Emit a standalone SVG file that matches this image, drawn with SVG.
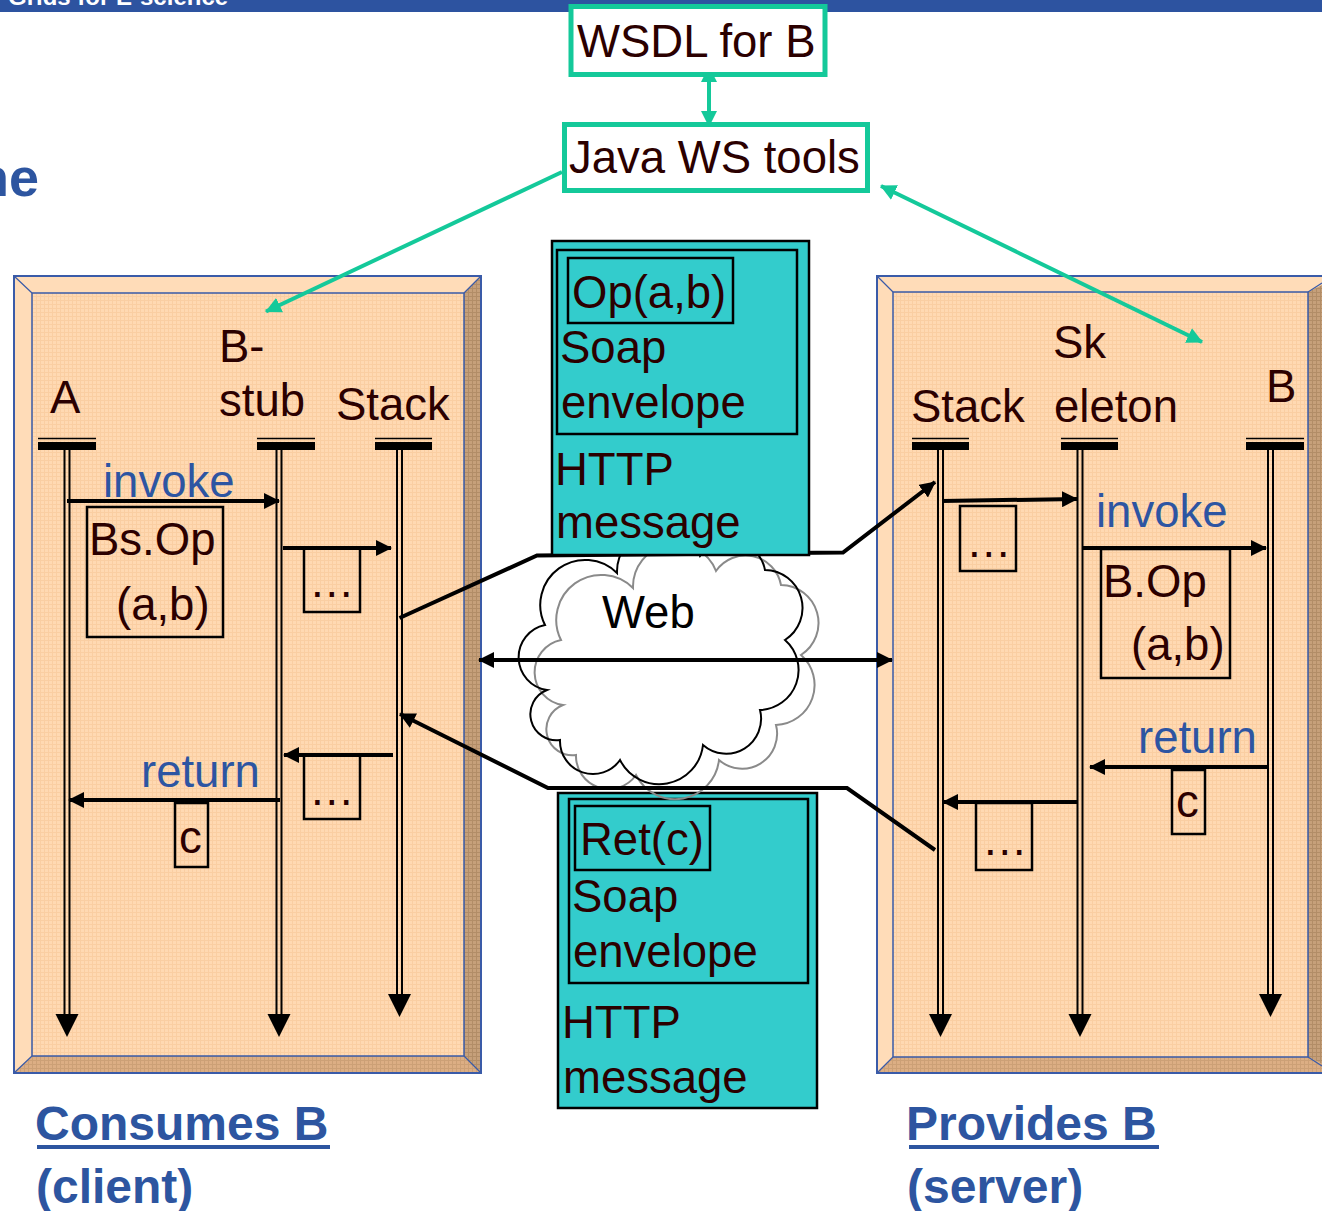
<svg xmlns="http://www.w3.org/2000/svg" width="1322" height="1211" viewBox="0 0 1322 1211">
  <style>
    .t { font-family: "Liberation Sans", Arial, sans-serif; font-size: 45.5px; fill: #2b0000; }
    .blue { fill: #2d55a2; }
    .bold { font-family: "Liberation Sans", Arial, sans-serif; font-weight: bold; fill: #2d55a0; }
    .ll { stroke: #000; stroke-width: 2; fill: none; }
    .msg { stroke: #000; stroke-width: 4; fill: none; marker-end: url(#ah); }
    .box { fill: none; stroke: #000; stroke-width: 2.5; }
    .bar { fill: #000; }
    .green { stroke: #14c99a; stroke-width: 4; fill: none; }
    .frame { fill: none; stroke: #3a5ba8; }
    .teal { fill: #33cccc; stroke: #000; stroke-width: 2.5; }
    .inner { fill: none; stroke: #000; stroke-width: 2.5; }
  </style>
  <defs>
    <pattern id="peach" width="4" height="4" patternUnits="userSpaceOnUse">
      <rect width="4" height="4" fill="#ffd9b2"/>
      <path d="M0,0.5H4M0.5,0V4" stroke="#f6c698" stroke-width="1" opacity="0.6"/>
    </pattern>
    <pattern id="tan" width="4" height="4" patternUnits="userSpaceOnUse">
      <rect width="4" height="4" fill="#c6a07a"/>
      <path d="M0,0.5H4M0.5,0V4" stroke="#a9855f" stroke-width="1" opacity="0.7"/>
    </pattern>
    <pattern id="tanlight" width="4" height="4" patternUnits="userSpaceOnUse">
      <rect width="4" height="4" fill="#dcae84"/>
      <path d="M0,0.5H4M0.5,0V4" stroke="#c49a70" stroke-width="1" opacity="0.7"/>
    </pattern>
    <marker id="ah" markerUnits="userSpaceOnUse" markerWidth="17" markerHeight="16" refX="15" refY="8" orient="auto-start-reverse">
      <path d="M0,0 L16,8 L0,16 z" fill="#000"/>
    </marker>
    <marker id="agh" markerUnits="userSpaceOnUse" markerWidth="17" markerHeight="16" refX="15" refY="8" orient="auto-start-reverse">
      <path d="M0,0 L16,8 L0,16 z" fill="#14c99a"/>
    </marker>
    <path id="cloud" d="M545,625 A45,45 0 0 1 617,573 A43,43 0 0 1 700,556 A36,36 0 0 1 765,570 A38,38 0 0 1 785,640 A40,40 0 0 1 760,710 A35,35 0 0 1 703,745 A44,44 0 0 1 620,760 A33,33 0 0 1 560,740 A26,26 0 0 1 547,690 A33,33 0 0 1 545,625 Z"/>
  </defs>

  <rect width="1322" height="1211" fill="#fff"/>

  <!-- page header band and title fragment -->
  <g id="header">
    <rect x="0" y="0" width="1322" height="12" fill="#2d53a0"/>
    <text x="8" y="5" font-family="Liberation Sans, Arial, sans-serif" font-weight="bold" font-size="24" fill="#fff">Grids for E-science</text>
    <text x="39" y="196" text-anchor="end" class="bold" font-size="54">ne</text>
  </g>

  <!-- client panel frame -->
  <g id="client-panel">
    <rect x="14" y="276" width="467" height="797" fill="url(#peach)"/>
    <polygon points="14,276 481,276 464,293 32,293" fill="#ffdcb8"/>
    <polygon points="14,276 32,293 32,1056 14,1073" fill="#ffdcb8"/>
    <polygon points="481,276 481,1073 464,1056 464,293" fill="url(#tan)"/>
    <polygon points="14,1073 481,1073 464,1056 32,1056" fill="url(#tanlight)"/>
    <rect x="32" y="293" width="432" height="763" fill="url(#peach)"/>
    <rect x="14" y="276" width="467" height="797" class="frame" stroke-width="2"/>
    <rect x="32" y="293" width="432" height="763" class="frame" stroke-width="1.5"/>
    <path d="M14,276 L32,293 M481,276 L464,293 M14,1073 L32,1056 M481,1073 L464,1056" class="frame" stroke-width="1.2"/>
  </g>

  <!-- server panel frame -->
  <g id="server-panel">
    <rect x="877" y="276" width="463" height="797" fill="url(#peach)"/>
    <polygon points="877,276 1340,276 1308,292 893,292" fill="#ffdcb8"/>
    <polygon points="877,276 893,292 893,1057 877,1073" fill="#ffdcb8"/>
    <polygon points="1340,276 1340,1073 1308,1057 1308,292" fill="url(#tan)"/>
    <polygon points="877,1073 1340,1073 1308,1057 893,1057" fill="url(#tanlight)"/>
    <rect x="893" y="292" width="415" height="765" fill="url(#peach)"/>
    <rect x="877" y="276" width="463" height="797" class="frame" stroke-width="2"/>
    <rect x="893" y="292" width="415" height="765" class="frame" stroke-width="1.5"/>
    <path d="M877,276 L893,292 M877,1073 L893,1057 M1322,283 L1308,292 M1322,1066 L1308,1057" class="frame" stroke-width="1.2"/>
  </g>

  <!-- cloud fill (outlines drawn after the reply message box) -->
  <g id="web-cloud-fill" fill="#fff">
    <use href="#cloud" transform="translate(16,15)"/>
    <use href="#cloud"/>
  </g>

  <!-- reply: HTTP message carrying SOAP envelope with Ret(c) -->
  <g id="reply-message">
    <rect x="558" y="793" width="259" height="315" class="teal"/>
    <rect x="569" y="799" width="239" height="184" class="inner"/>
    <rect x="575" y="806" width="135" height="64" class="inner"/>
    <text x="580" y="855" class="t">Ret(c)</text>
    <text x="572" y="912" class="t">Soap</text>
    <text x="573" y="967" class="t">envelope</text>
    <text x="562" y="1038" class="t">HTTP</text>
    <text x="563" y="1093" class="t">message</text>
  </g>

  <g id="web-cloud">
    <use href="#cloud" transform="translate(16,15)" fill="none" stroke="#8a8a8a" stroke-width="2"/>
    <use href="#cloud" fill="none" stroke="#000" stroke-width="2"/>
    <text x="602" y="628" font-family="Liberation Sans, Arial, sans-serif" font-size="45.5" fill="#000">Web</text>
  </g>

  <!-- connectors -->
  <g id="connectors">
    <path d="M399.5,618 L537,555.5 L843,552.5 L935,482" stroke="#000" stroke-width="4" fill="none" marker-end="url(#ah)"/>
    <path d="M935,850 L847,788 L548,788 L400,714" stroke="#000" stroke-width="4" fill="none" marker-end="url(#ah)"/>
    <path d="M479,660 L892,660" stroke="#000" stroke-width="4" fill="none" marker-start="url(#ah)" marker-end="url(#ah)"/>
    <path d="M709,67 L709,126" class="green" marker-start="url(#agh)" marker-end="url(#agh)"/>
    <path d="M562,172 L266,311.5" class="green" marker-end="url(#agh)"/>
    <path d="M881,186 L1202,342" class="green" marker-start="url(#agh)" marker-end="url(#agh)"/>
  </g>

  <!-- request: HTTP message carrying SOAP envelope with Op(a,b) -->
  <g id="request-message">
    <rect x="552" y="241" width="257" height="314" class="teal"/>
    <rect x="557" y="250" width="240" height="184" class="inner"/>
    <rect x="568" y="258" width="165" height="65" class="inner"/>
    <text x="572" y="308" class="t">Op(a,b)</text>
    <text x="560" y="363" class="t">Soap</text>
    <text x="561" y="418" class="t">envelope</text>
    <text x="555" y="485" class="t">HTTP</text>
    <text x="556" y="538" class="t">message</text>
  </g>

  <g id="wsdl">
    <rect x="571" y="6.5" width="254" height="68" fill="#fff" stroke="#14c99a" stroke-width="5"/>
    <text x="577" y="57" class="t" font-size="46.5">WSDL for B</text>
  </g>

  <g id="java-ws-tools">
    <rect x="564.5" y="124.5" width="303" height="66" fill="#fff" stroke="#14c99a" stroke-width="5"/>
    <text x="569" y="173" class="t">Java WS tools</text>
  </g>

  <!-- client side sequence -->
  <g id="client-A">
    <text x="50" y="413" class="t">A</text>
    <path d="M38,438.5 H96" stroke="#000" stroke-width="1.5"/>
    <rect x="38" y="442" width="58" height="8" class="bar"/>
    <path d="M64.5,450 V1016 M69.5,450 V1016" class="ll"/>
    <polygon points="55.5,1014 78.5,1014 67,1037"/>
  </g>
  <g id="client-stub">
    <text x="219" y="362" class="t">B-</text>
    <text x="219" y="416" class="t">stub</text>
    <path d="M257,438.5 H315" stroke="#000" stroke-width="1.5"/>
    <rect x="257" y="442" width="58" height="8" class="bar"/>
    <path d="M276.5,450 V1016 M281.5,450 V1016" class="ll"/>
    <polygon points="267.5,1014 290.5,1014 279,1037"/>
  </g>
  <g id="client-stack">
    <text x="336" y="420" class="t">Stack</text>
    <path d="M375,438.5 H432" stroke="#000" stroke-width="1.5"/>
    <rect x="375" y="442" width="57" height="8" class="bar"/>
    <path d="M397,450 V996 M402,450 V996" class="ll"/>
    <polygon points="388,994 411,994 399.5,1017"/>
  </g>
  <g id="client-messages">
    <text x="103" y="497" class="t blue">invoke</text>
    <path d="M67,501 H279" class="msg"/>
    <rect x="87" y="507" width="136" height="130" class="box"/>
    <text x="89" y="555" class="t">Bs.Op</text>
    <text x="116" y="620" class="t">(a,b)</text>
    <path d="M283,548 H391" class="msg"/>
    <rect x="304" y="548" width="56" height="64" class="box"/>
    <text x="309" y="597" class="t">…</text>
    <path d="M393,755 H284" class="msg"/>
    <rect x="304" y="755" width="56" height="64" class="box"/>
    <text x="309" y="805" class="t">…</text>
    <text x="141" y="787" class="t blue">return</text>
    <path d="M280,800 H69" class="msg"/>
    <rect x="175" y="803" width="33" height="64" class="box"/>
    <text x="179" y="853" class="t">c</text>
  </g>

  <!-- server side sequence -->
  <g id="server-stack">
    <text x="911" y="422" class="t">Stack</text>
    <path d="M912,438.5 H969" stroke="#000" stroke-width="1.5"/>
    <rect x="912" y="442" width="57" height="8" class="bar"/>
    <path d="M938,450 V1016 M943,450 V1016" class="ll"/>
    <polygon points="929,1014 952,1014 940.5,1037"/>
  </g>
  <g id="server-skeleton">
    <text x="1053" y="358" class="t">Sk</text>
    <text x="1054" y="422" class="t">eleton</text>
    <path d="M1061,438.5 H1118" stroke="#000" stroke-width="1.5"/>
    <rect x="1061" y="442" width="57" height="8" class="bar"/>
    <path d="M1077.5,450 V1016 M1082.5,450 V1016" class="ll"/>
    <polygon points="1068.5,1014 1091.5,1014 1080,1037"/>
  </g>
  <g id="server-B">
    <text x="1266" y="402" class="t">B</text>
    <path d="M1246,438.5 H1304" stroke="#000" stroke-width="1.5"/>
    <rect x="1246" y="442" width="58" height="8" class="bar"/>
    <path d="M1268,450 V996 M1273,450 V996" class="ll"/>
    <polygon points="1259,994 1282,994 1270.5,1017"/>
  </g>
  <g id="server-messages">
    <path d="M942,501 L1077,499" class="msg"/>
    <rect x="960" y="506" width="56" height="65" class="box"/>
    <text x="966" y="557" class="t">…</text>
    <text x="1096" y="527" class="t blue">invoke</text>
    <path d="M1082,548 H1266" class="msg"/>
    <rect x="1101" y="549" width="129" height="129" class="box"/>
    <text x="1103" y="597" class="t">B.Op</text>
    <text x="1131" y="660" class="t">(a,b)</text>
    <text x="1138" y="753" class="t blue">return</text>
    <path d="M1268,767 H1090" class="msg"/>
    <rect x="1172" y="770" width="33" height="64" class="box"/>
    <text x="1176" y="817" class="t">c</text>
    <path d="M1078,802 H943" class="msg"/>
    <rect x="976" y="803" width="56" height="67" class="box"/>
    <text x="982" y="855" class="t">…</text>
  </g>

  <!-- captions -->
  <g id="captions">
    <text x="35" y="1140" class="bold" font-size="48">Consumes B</text>
    <rect x="37" y="1145" width="293" height="4" fill="#2d55a0"/>
    <text x="36" y="1203" class="bold" font-size="48">(client)</text>
    <text x="906" y="1140" class="bold" font-size="48">Provides B</text>
    <rect x="909" y="1145" width="250" height="4" fill="#2d55a0"/>
    <text x="907" y="1203" class="bold" font-size="48">(server)</text>
  </g>
</svg>
